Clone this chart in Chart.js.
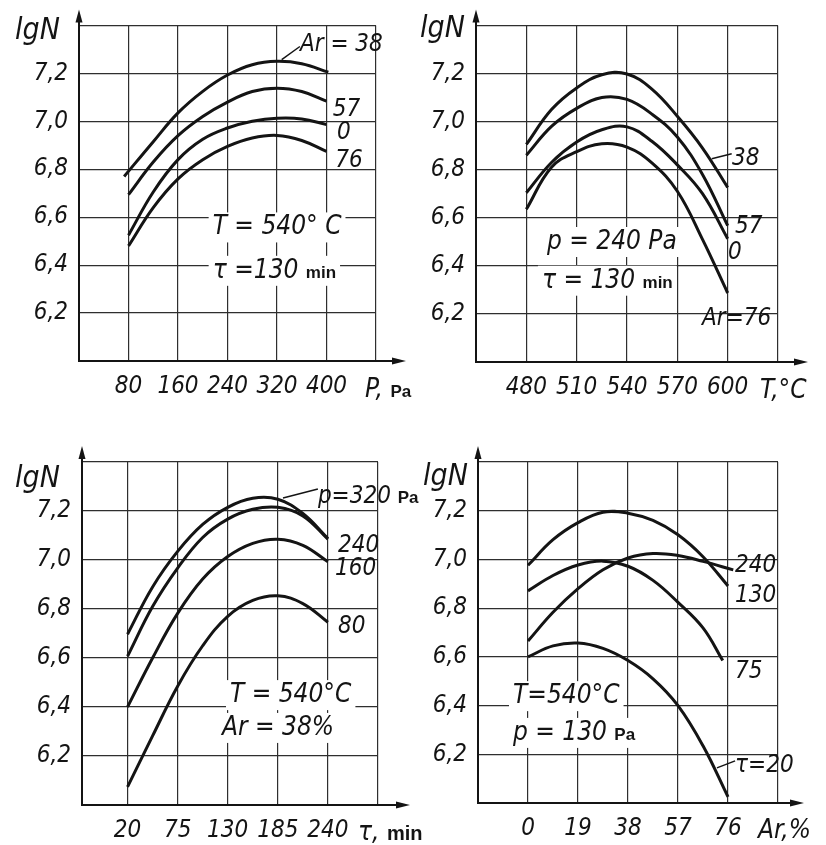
<!DOCTYPE html>
<html>
<head>
<meta charset="utf-8">
<script src="https://cdn.jsdelivr.net/npm/chart.js@4.4.1/dist/chart.umd.min.js"></script>
<style>
  body { margin: 0; background: #fff; }
  canvas { position: absolute; left: 0; top: 0; }
</style>
</head>
<body>
<canvas id="chartPressure" width="826" height="845"></canvas>
<canvas id="chartTemperature" width="826" height="845"></canvas>
<canvas id="chartTime" width="826" height="845"></canvas>
<canvas id="chartArgon" width="826" height="845"></canvas>
<script>
// shared lgN axis
const yGrid = [6.0, 6.2, 6.4, 6.6, 6.8, 7.0, 7.2, 7.4];
const yTickLabels = ['', '6,2', '6,4', '6,6', '6,8', '7,0', '7,2', ''];

// lgN vs pressure (T = 540 C, tau = 130 min), curves by Ar %
const pressureTicks = [80, 160, 240, 320, 400];
const pressureX = [80, 120, 160, 200, 240, 280, 320, 360, 400];
const pressureAr38X = [73, 120, 160, 200, 240, 280, 320, 360, 403];
const pressureAr38 = [6.77, 6.915, 7.035, 7.125, 7.193, 7.236, 7.25, 7.24, 7.205];
const pressureAr57 = [6.694, 6.83, 6.94, 7.02, 7.08, 7.124, 7.138, 7.124, 7.084];
const pressureAr0 = [6.525, 6.705, 6.84, 6.925, 6.972, 7.0, 7.013, 7.01, 6.986];
const pressureAr76 = [6.48, 6.64, 6.76, 6.84, 6.895, 6.93, 6.941, 6.92, 6.874];

// lgN vs temperature (p = 240 Pa, tau = 130 min), curves by Ar %
const tempTicks = [480, 510, 540, 570, 600];
const tempX = [480, 495, 510, 525, 540, 555, 570, 585, 600];
const tempAr38 = [6.905, 7.05, 7.14, 7.195, 7.198, 7.134, 7.022, 6.89, 6.726];
const tempAr57 = [6.86, 6.98, 7.055, 7.1, 7.092, 7.03, 6.936, 6.78, 6.567];
const tempAr0 = [6.704, 6.83, 6.915, 6.966, 6.978, 6.917, 6.82, 6.70, 6.513];
const tempAr76 = [6.635, 6.81, 6.875, 6.908, 6.894, 6.827, 6.71, 6.51, 6.287];

// lgN vs time (T = 540 C, Ar = 38 %), curves by pressure
const timeTicks = [20, 75, 130, 185, 240];
const timeX = [20, 47.5, 75, 102.5, 130, 157.5, 185, 212.5, 240];
const timeP320 = [6.697, 6.89, 7.035, 7.145, 7.215, 7.252, 7.248, 7.19, 7.088];
const timeP240 = [6.607, 6.81, 6.967, 7.092, 7.167, 7.207, 7.215, 7.18, 7.085];
const timeP160 = [6.4, 6.6, 6.782, 6.922, 7.014, 7.068, 7.085, 7.06, 6.993];
const timeP80 = [6.074, 6.282, 6.485, 6.65, 6.77, 6.835, 6.854, 6.822, 6.746];

// lgN vs Ar % (T = 540 C, p = 130 Pa), curves by time
const arTicks = [0, 19, 38, 57, 76];
const arX = [0, 9.5, 19, 28.5, 38, 47.5, 57, 66.5, 76];
const arTau240X = [0, 9.5, 19, 28.5, 38, 47.5, 57, 66.5, 78];
const arTau240 = [6.665, 6.783, 6.88, 6.958, 7.006, 7.024, 7.016, 6.992, 6.957];
const arTau130 = [6.976, 7.081, 7.151, 7.194, 7.19, 7.16, 7.101, 7.011, 6.891];
const arTau75X = [0, 9.5, 19, 28.5, 38, 47.5, 57, 66.5, 74];
const arTau75 = [6.871, 6.934, 6.977, 6.993, 6.972, 6.914, 6.824, 6.719, 6.585];
const arTau20 = [6.6, 6.645, 6.657, 6.635, 6.585, 6.51, 6.40, 6.235, 6.025];

const FONT = '"Liberation Sans Narrow", "DejaVu Sans Condensed", "Liberation Sans", sans-serif';
const ink = '#141414';
const gridInk = '#2e2e2e';
const big = 'italic 26px ' + FONT;
const mid = 'italic 24px ' + FONT;
const small = 'bold 17px "Liberation Sans", "DejaVu Sans", sans-serif';
const titleFont = 'italic 30px ' + FONT;

function pts(xs, ys) {
    return xs.map((x, i) => ({ x: x, y: ys[i] }));
}

function curve(xs, ys) {
    return { data: pts(xs, ys), borderColor: ink, borderWidth: 3, pointRadius: 0, tension: 0.4, fill: false };
}

function drawRuns(ctx, x, y, runs, backed) {
    let w = 0;
    runs.forEach(([t, f]) => { ctx.font = f; w += ctx.measureText(t).width; });
    if (backed) {
        ctx.fillStyle = '#fff';
        ctx.fillRect(x - 4, y - 22, w + 8, 30);
    }
    ctx.fillStyle = ink;
    ctx.textAlign = 'left';
    ctx.textBaseline = 'alphabetic';
    runs.forEach(([t, f]) => {
        ctx.font = f;
        ctx.fillText(t, x, y);
        x += ctx.measureText(t).width;
    });
}

function decor(notes) {
    return {
        id: 'decor',
        beforeDatasetsDraw(chart) {
            const { ctx, scales: { x, y } } = chart;
            ctx.save();
            notes.texts.filter(n => n.backed).forEach(n => {
                drawRuns(ctx, x.getPixelForValue(n.x), y.getPixelForValue(n.y), n.runs, true);
            });
            ctx.restore();
        },
        afterDraw(chart) {
            const { ctx, chartArea: a, scales: { x, y } } = chart;
            ctx.save();
            ctx.strokeStyle = ink;
            ctx.fillStyle = ink;
            ctx.lineWidth = 2;
            // axis arrows
            ctx.beginPath();
            ctx.moveTo(a.left, a.top);
            ctx.lineTo(a.left, a.top - 6);
            ctx.moveTo(a.right, a.bottom);
            ctx.lineTo(a.right + notes.arrowX - 6, a.bottom);
            ctx.stroke();
            ctx.beginPath();
            ctx.moveTo(a.left, a.top - 16);
            ctx.lineTo(a.left - 3.5, a.top - 3);
            ctx.lineTo(a.left + 3.5, a.top - 3);
            ctx.closePath();
            ctx.fill();
            ctx.beginPath();
            ctx.moveTo(a.right + notes.arrowX + 6, a.bottom);
            ctx.lineTo(a.right + notes.arrowX - 8, a.bottom - 3.5);
            ctx.lineTo(a.right + notes.arrowX - 8, a.bottom + 3.5);
            ctx.closePath();
            ctx.fill();
            // leader lines to curve labels
            ctx.lineWidth = 1.5;
            notes.leaders.forEach(([x1, y1, x2, y2]) => {
                ctx.beginPath();
                ctx.moveTo(x.getPixelForValue(x1), y.getPixelForValue(y1));
                ctx.lineTo(x.getPixelForValue(x2), y.getPixelForValue(y2));
                ctx.stroke();
            });
            notes.texts.filter(n => !n.backed).forEach(n => {
                drawRuns(ctx, x.getPixelForValue(n.x), y.getPixelForValue(n.y), n.runs, false);
            });
            drawRuns(ctx, a.left + notes.yTitle[0], a.top + notes.yTitle[1], [['lgN', titleFont]], false);
            drawRuns(ctx, a.right + notes.xTitle[0], a.bottom + notes.xTitle[1], notes.xTitle[2], false);
            ctx.restore();
        }
    };
}

function makePanel(id, box, xAxis, datasets, notes) {
    return new Chart(document.getElementById(id), {
        type: 'line',
        data: { datasets: datasets },
        options: {
            responsive: false,
            animation: false,
            events: [],
            layout: { padding: { left: 0, top: box.top, right: 826 - box.right, bottom: 0 } },
            plugins: { legend: { display: false }, tooltip: { enabled: false } },
            scales: {
                x: {
                    type: 'linear',
                    min: xAxis.min,
                    max: xAxis.max,
                    afterBuildTicks: s => { s.ticks = xAxis.grid.map(v => ({ value: v })); },
                    afterFit: s => { s.height = 845 - box.bottom; },
                    ticks: {
                        callback: v => xAxis.labels.includes(v) ? String(v) : '',
                        font: { family: FONT, size: 24, style: 'italic' },
                        color: ink,
                        padding: 11,
                        maxRotation: 0,
                        autoSkip: false
                    },
                    grid: { color: gridInk, lineWidth: 1.2, drawTicks: false },
                    border: { color: ink, width: 2 }
                },
                y: {
                    min: 6.0,
                    max: 7.4,
                    afterBuildTicks: s => { s.ticks = yGrid.map(v => ({ value: v })); },
                    afterFit: s => { s.width = box.left; },
                    ticks: {
                        callback: (v, i) => yTickLabels[i],
                        font: { family: FONT, size: 24, style: 'italic' },
                        color: ink,
                        padding: 11,
                        autoSkip: false
                    },
                    grid: { color: gridInk, lineWidth: 1.2, drawTicks: false },
                    border: { color: ink, width: 2 }
                }
            }
        },
        plugins: [decor(notes)]
    });
}

const chartPressure = makePanel('chartPressure',
    { left: 79, top: 22, right: 376, bottom: 361 },
    { min: 0, max: 480, grid: [80, 160, 240, 320, 400, 480], labels: pressureTicks },
    [
        curve(pressureAr38X, pressureAr38),
        curve(pressureX, pressureAr57),
        curve(pressureX, pressureAr0),
        curve(pressureX, pressureAr76),
    ],
    {
        arrowX: 24,
        yTitle: [-64, 14],
        xTitle: [-11, 36, [['P, ', big], ['Pa', small]]],
        leaders: [[327.6, 7.257, 357, 7.312]],
        texts: [
            { x: 357, y: 7.293, runs: [['Ar = 38', mid]] },
            { x: 410, y: 7.024, runs: [['57', mid]] },
            { x: 417, y: 6.925, runs: [['0', mid]] },
            { x: 414, y: 6.809, runs: [['76', mid]] },
            { x: 216, y: 6.528, runs: [['T = 540° C', big]], backed: true },
            { x: 216, y: 6.347, runs: [['τ =130 ', big], ['min', small]], backed: true },
        ]
    }
);

const chartTemperature = makePanel('chartTemperature',
    { left: 476, top: 22, right: 778, bottom: 362 },
    { min: 450, max: 630, grid: [480, 510, 540, 570, 600, 630], labels: tempTicks },
    [
        curve(tempX, tempAr38),
        curve(tempX, tempAr57),
        curve(tempX, tempAr0),
        curve(tempX, tempAr76),
    ],
    {
        arrowX: 24,
        yTitle: [-56, 12],
        xTitle: [-18, 36, [['T,°C', big]]],
        leaders: [[590.5, 6.845, 602.4, 6.866]],
        texts: [
            { x: 602.6, y: 6.82, runs: [['38', mid]] },
            { x: 604.4, y: 6.535, runs: [['57', mid]] },
            { x: 600.2, y: 6.43, runs: [['0', mid]] },
            { x: 584.7, y: 6.153, runs: [['Ar=76', mid]] },
            { x: 492.3, y: 6.47, runs: [['p = 240 Pa', big]], backed: true },
            { x: 489.3, y: 6.309, runs: [['τ = 130 ', big], ['min', small]], backed: true },
        ]
    }
);

const chartTime = makePanel('chartTime',
    { left: 82, top: 462, right: 378, bottom: 805 },
    { min: -30, max: 295, grid: [20, 75, 130, 185, 240, 295], labels: timeTicks },
    [
        curve(timeX, timeP320),
        curve(timeX, timeP240),
        curve(timeX, timeP160),
        curve(timeX, timeP80),
    ],
    {
        arrowX: 26,
        yTitle: [-67, 25],
        xTitle: [-20, 35, [['τ, ', big], ['min', 'bold 20px "Liberation Sans", "DejaVu Sans", sans-serif']]],
        leaders: [[190.7, 7.253, 229, 7.29]],
        texts: [
            { x: 229, y: 7.233, runs: [['p=320 ', mid], ['Pa', small]] },
            { x: 251, y: 7.033, runs: [['240', mid]] },
            { x: 247.8, y: 6.939, runs: [['160', mid]] },
            { x: 251, y: 6.702, runs: [['80', mid]] },
            { x: 132.5, y: 6.42, runs: [['T = 540°C', big]], backed: true },
            { x: 123.7, y: 6.286, runs: [['Ar = 38%', big]], backed: true },
        ]
    }
);

const chartArgon = makePanel('chartArgon',
    { left: 478, top: 462, right: 778, bottom: 803 },
    { min: -19, max: 95, grid: [0, 19, 38, 57, 76, 95], labels: arTicks },
    [
        curve(arTau240X, arTau240),
        curve(arX, arTau130),
        curve(arTau75X, arTau75),
        curve(arX, arTau20),
    ],
    {
        arrowX: 20,
        yTitle: [-55, 23],
        xTitle: [-20, 35, [['Ar,%', big]]],
        leaders: [[71.8, 6.144, 78.7, 6.173]],
        texts: [
            { x: 78.7, y: 6.948, runs: [['240', mid]] },
            { x: 78.7, y: 6.825, runs: [['130', mid]] },
            { x: 78.7, y: 6.513, runs: [['75', mid]] },
            { x: 78.7, y: 6.127, runs: [['τ=20', mid]] },
            { x: -5.7, y: 6.41, runs: [['T=540°C', big]], backed: true },
            { x: -5.7, y: 6.259, runs: [['p = 130 ', big], ['Pa', small]], backed: true },
        ]
    }
);
</script>
</body>
</html>
